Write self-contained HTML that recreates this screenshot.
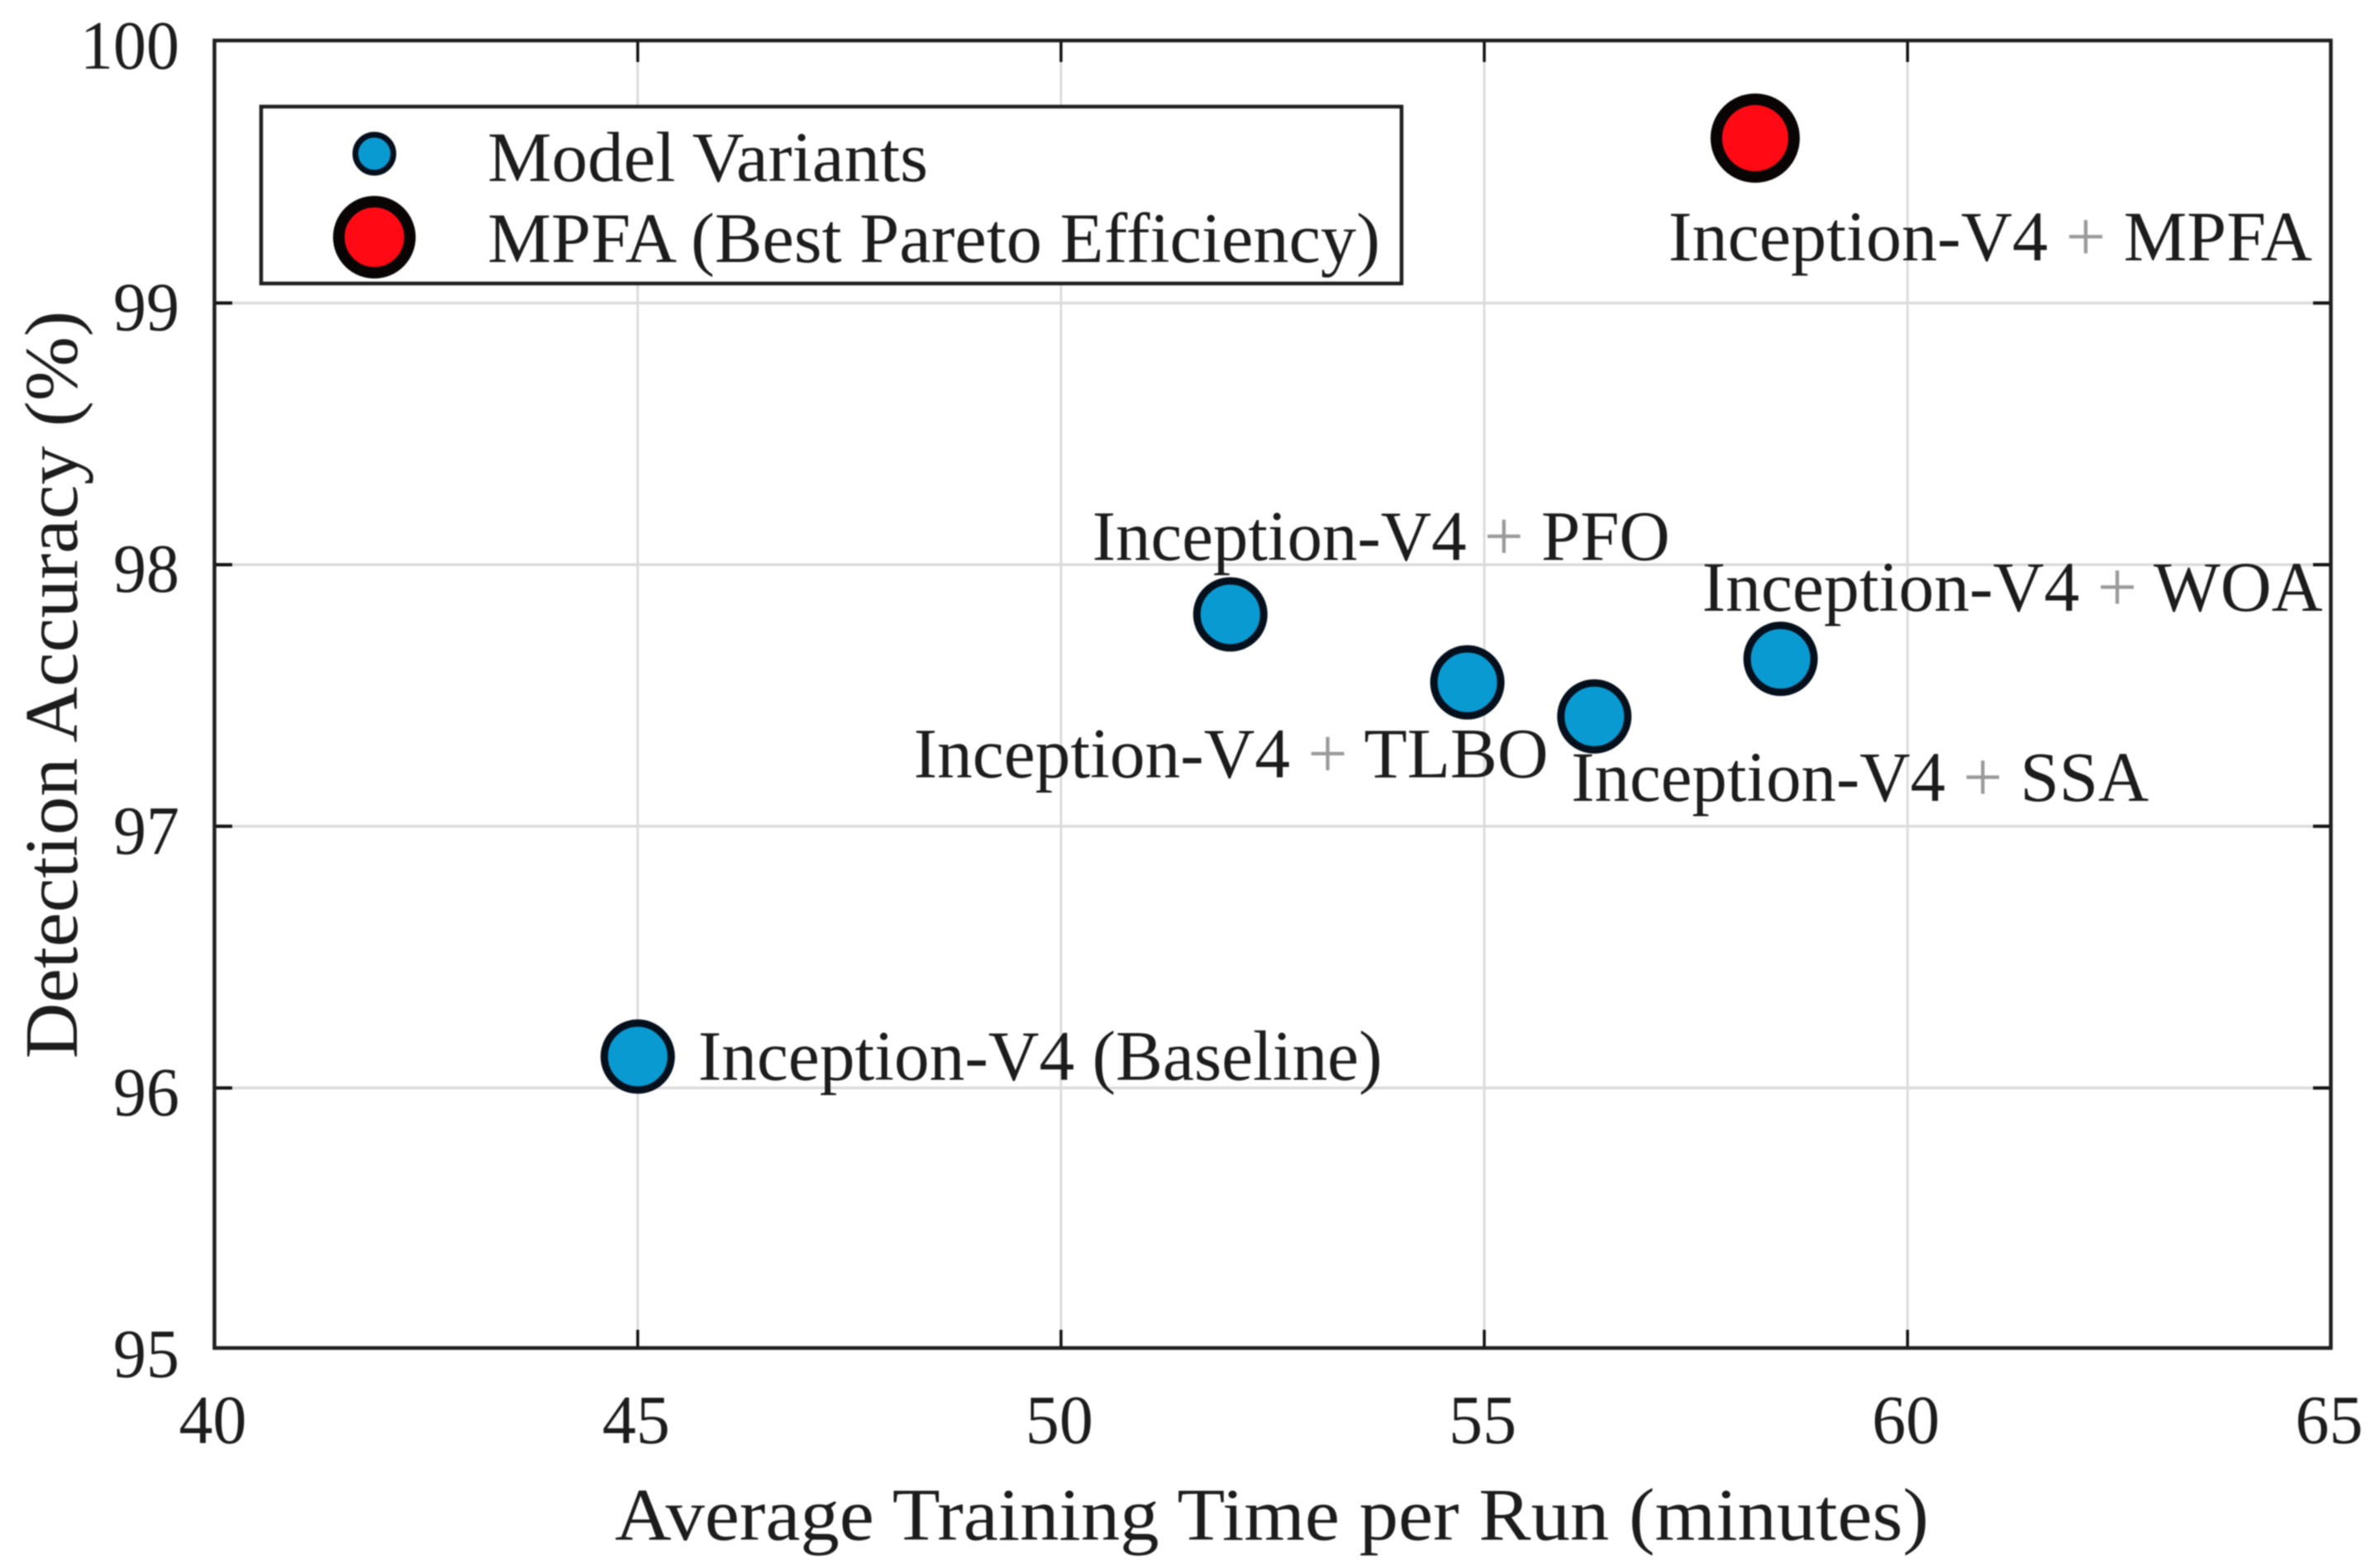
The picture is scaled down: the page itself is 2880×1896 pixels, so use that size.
<!DOCTYPE html>
<html lang="en">
<head>
<meta charset="utf-8">
<title>Detection Accuracy vs Average Training Time</title>
<style>
  html, body { margin: 0; padding: 0; background: #fff; }
  svg { display: block; filter: blur(0.8px); }
  text { font-family: "Liberation Serif", "Times New Roman", serif; fill: #1c1c1c; }
</style>
</head>
<body>
<svg id="chart" xmlns="http://www.w3.org/2000/svg" width="2880" height="1896" viewBox="0 0 2880 1896">
  <rect x="0" y="0" width="2880" height="1896" fill="#ffffff"/>
  <g id="grid"></g>
  <g id="ticks"></g>
  <rect x="259.5" y="49" width="2561" height="1582" fill="none" stroke="#1f1f1f" stroke-width="4.5"/>
  <g id="tick-labels"></g>
  <g id="marks"></g>
  <g id="point-labels"></g>

  <g>
    <rect x="316" y="129" width="1380" height="214" fill="#ffffff" stroke="#1f1f1f" stroke-width="4.5"/>
    <circle cx="453" cy="186" r="23" fill="#0a9ad2" stroke="#05101c" stroke-width="7"/>
    <text x="590" y="219" font-size="86" textLength="533" lengthAdjust="spacingAndGlyphs">Model Variants</text>
    <circle cx="453" cy="287" r="43" fill="#ff0a14" stroke="#0a0505" stroke-width="14"/>
    <text x="590" y="317" font-size="86" textLength="1080" lengthAdjust="spacingAndGlyphs">MPFA (Best Pareto Efficiency)</text>
  </g>

  <text x="744" y="1863" font-size="90" textLength="1590" lengthAdjust="spacingAndGlyphs">Average Training Time per Run (minutes)</text>
  <text transform="translate(93 1281) rotate(-90)" x="0" y="0" font-size="91" textLength="905" lengthAdjust="spacingAndGlyphs">Detection Accuracy (%)</text>
</svg>

<script>
const categories = ["Inception-V4 (Baseline)", "Inception-V4 + PFO", "Inception-V4 + TLBO", "Inception-V4 + SSA", "Inception-V4 + WOA", "Inception-V4 + MPFA"];
const trainingTime = [45.0, 52.0, 54.8, 56.3, 58.5, 58.2];
const detectionAccuracy = [96.12, 97.81, 97.55, 97.42, 97.64, 99.63];
const isBest = [false, false, false, false, false, true];
const xTickValues = [40, 45, 50, 55, 60, 65];
const yTickValues = [95, 96, 97, 98, 99, 100];

const NS = "http://www.w3.org/2000/svg";
const xMin = 40, xMax = 65, yMin = 95, yMax = 100;
function xScale(v) { return 259.5 + (v - xMin) / (xMax - xMin) * 2561; }
function yScale(v) { return 50 + (yMax - v) / (yMax - yMin) * 1583; }

function el(parent, tag, attrs) {
  const n = document.createElementNS(NS, tag);
  for (const k in attrs) n.setAttribute(k, attrs[k]);
  parent.appendChild(n);
  return n;
}

const grid = document.getElementById("grid");
const ticks = document.getElementById("ticks");
const tickLabels = document.getElementById("tick-labels");

xTickValues.forEach(function (v) {
  const x = xScale(v);
  if (v > xMin && v < xMax) {
    const g = el(grid, "line", { x1: x, x2: x, y1: 49, y2: 1631, stroke: "#dcdcdc", "stroke-width": 3 });
    
    
    const t1 = el(ticks, "line", { x1: x, x2: x, y1: 49, y2: 75, stroke: "#111", "stroke-width": 3.5 });
    
    
    const t2 = el(ticks, "line", { x1: x, x2: x, y1: 1631, y2: 1609, stroke: "#111", "stroke-width": 3.5 });
    
    
  }
  const lab = el(tickLabels, "text", { x: x - 2, y: 1746, "font-size": 84, "text-anchor": "middle", textLength: 82, lengthAdjust: "spacingAndGlyphs" });
  
  
  lab.textContent = String(v);
});

yTickValues.forEach(function (v) {
  const y = yScale(v);
  if (v > yMin && v < yMax) {
    const g = el(grid, "line", { x1: 259.5, x2: 2820.5, y1: y, y2: y, stroke: "#dcdcdc", "stroke-width": 3.5 });
    
    
    const t1 = el(ticks, "line", { x1: 259.5, x2: 281, y1: y, y2: y, stroke: "#111", "stroke-width": 4 });
    
    
    const t2 = el(ticks, "line", { x1: 2820.5, x2: 2799, y1: y, y2: y, stroke: "#111", "stroke-width": 4 });
    
    
  }
  const s = String(v);
  const lab = el(tickLabels, "text", { x: 217, y: y + 33, "font-size": 84, "text-anchor": "end", textLength: s.length * 40, lengthAdjust: "spacingAndGlyphs" });
  
  
  lab.textContent = s;
});

const marks = document.getElementById("marks");
categories.forEach(function (name, i) {
  const best = isBest[i];
  const c = el(marks, "circle", {
    cx: xScale(trainingTime[i]),
    cy: yScale(detectionAccuracy[i]),
    r: best ? 47 : 40.5,
    fill: best ? "#ff0a14" : "#0a9ad2",
    stroke: best ? "#0a0505" : "#05101c",
    "stroke-width": best ? 14 : 9
  });
  
  
});

const pointLabels = document.getElementById("point-labels");
function addLabel(i, dx, dy, len) {
  const t = el(pointLabels, "text", {
    x: xScale(trainingTime[i]) + dx,
    y: yScale(detectionAccuracy[i]) + dy,
    "font-size": 86,
    textLength: len,
    lengthAdjust: "spacingAndGlyphs"
  });
  
  
  const parts = categories[i].split("+");
  parts.forEach(function (part, j) {
    if (j > 0) {
      const plus = el(t, "tspan", { style: "fill:#9a9a9a" });
      
      
      plus.textContent = "+";
    }
    t.appendChild(document.createTextNode(part));
  });
}
addLabel(0, 73, 28, 828);
addLabel(1, -167, -66, 699);
addLabel(2, -670, 115, 768);
addLabel(3, -28, 102, 699);
addLabel(4, -95, -58, 751);
addLabel(5, -105, 148, 779);
</script>
</body>
</html>
